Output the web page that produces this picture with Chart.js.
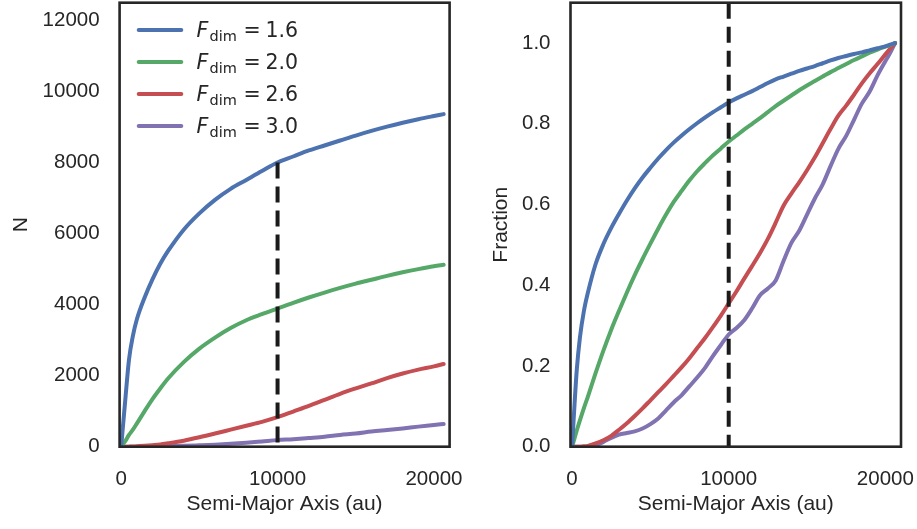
<!DOCTYPE html>
<html>
<head>
<meta charset="utf-8">
<script src="https://cdn.jsdelivr.net/npm/chart.js@4.4.1/dist/chart.umd.min.js"></script>
<style>
  html, body { margin: 0; padding: 0; background: #ffffff; }
  #wrap { position: relative; width: 917px; height: 529px; overflow: hidden; background: #ffffff; }
  canvas { position: absolute; top: 0; }
  #countChart { left: 0; }
  #fractionChart { left: 470px; }
</style>
</head>
<body>
<div id="wrap">
  <canvas id="countChart" width="470" height="529"></canvas>
  <canvas id="fractionChart" width="447" height="529"></canvas>
</div>
<script>
// ---- data ---------------------------------------------------------------
const fdimValues   = ['1.6', '2.0', '2.6', '3.0'];
const seriesColors = ['#4C72B0', '#55A868', '#C44E52', '#8172B2'];

const axisTicks     = [0, 10000, 20000];
const countTicks    = [0, 2000, 4000, 6000, 8000, 10000, 12000];
const fractionTicks = [0, 0.2, 0.4, 0.6, 0.8, 1.0];

const cutoffAU    = 10000;   // vertical dashed marker
const cutoffCount = 8000;

// cumulative number of objects vs semi-major axis (au)
const countAU  = [0, 250, 500, 750, 1000, 1500, 2000, 2500, 3000, 4000, 5000, 6000, 7000,
                  8000, 9000, 10000, 11000, 12000, 13000, 14000, 15000, 16000, 17000,
                  18000, 19000, 20000, 20620];
const countF16 = [0, 1250, 2450, 3120, 3580, 4200, 4710, 5150, 5510, 6110, 6570, 6950, 7260,
                  7510, 7760, 8000, 8170, 8340, 8480, 8620, 8760, 8890, 9010,
                  9120, 9220, 9310, 9364];
const countF20 = [0, 150, 330, 480, 650, 1000, 1340, 1640, 1920, 2380, 2760, 3070, 3340,
                  3560, 3730, 3890, 4050, 4200, 4340, 4470, 4590, 4700, 4810,
                  4910, 5000, 5080, 5120];
const countF26 = [0, 0, 2, 5, 12, 25, 42, 62, 95, 170, 265, 370, 480,
                  590, 700, 830, 990, 1150, 1320, 1490, 1640, 1780, 1930,
                  2060, 2170, 2260, 2330];
const countF30 = [0, 0, 0, 0, 1, 4, 9, 13, 16, 24, 40, 58, 82,
                  112, 148, 185, 212, 245, 280, 330, 370, 425, 470,
                  515, 565, 610, 640];

// cumulative fraction vs semi-major axis (au)
const fracAU  = [0, 150, 300, 500, 750, 1000, 1500, 2000, 2500, 3000, 3500, 4000, 4500,
                 5000, 5500, 6000, 6500, 7000, 7500, 8000, 8500, 9000, 9500, 10000,
                 10500, 11000, 11500, 12000, 12500, 13000, 13500, 14000, 14500, 15000,
                 15500, 16000, 16500, 17000, 17500, 18000, 18500, 19000, 19500, 20000,
                 20300, 20620];
const fracF16 = [0, 0.10, 0.19, 0.27, 0.335, 0.38, 0.452, 0.502, 0.542, 0.577, 0.610, 0.640, 0.667,
                 0.691, 0.714, 0.735, 0.754, 0.771, 0.787, 0.802, 0.816, 0.829, 0.841, 0.853,
                 0.863, 0.872, 0.881, 0.891, 0.901, 0.910, 0.917, 0.924, 0.931, 0.937,
                 0.943, 0.950, 0.957, 0.963, 0.968, 0.973, 0.977, 0.982, 0.987, 0.992,
                 0.996, 1.0];
const fracF20 = [0, 0.02, 0.04, 0.065, 0.095, 0.123, 0.182, 0.238, 0.29, 0.337, 0.382, 0.425, 0.465,
                 0.503, 0.540, 0.575, 0.607, 0.634, 0.660, 0.683, 0.703, 0.722, 0.739, 0.756,
                 0.771, 0.786, 0.800, 0.814, 0.829, 0.844, 0.857, 0.870, 0.883, 0.895,
                 0.906, 0.917, 0.928, 0.938, 0.948, 0.958, 0.967, 0.976, 0.984, 0.991,
                 0.995, 1.0];
const fracF26 = [0, 0, 0, 0, 0.001, 0.002, 0.008, 0.016, 0.027, 0.042, 0.058, 0.076, 0.095,
                 0.115, 0.135, 0.155, 0.176, 0.197, 0.22, 0.245, 0.27, 0.297, 0.325, 0.355,
                 0.385, 0.417, 0.448, 0.48, 0.515, 0.555, 0.597, 0.627, 0.655, 0.685,
                 0.717, 0.752, 0.787, 0.82, 0.845, 0.872, 0.9, 0.925, 0.948, 0.972,
                 0.986, 1.0];
const fracF30 = [0, 0, 0, 0, 0, 0, 0.003, 0.012, 0.022, 0.03, 0.034, 0.038, 0.045,
                 0.056, 0.07, 0.09, 0.11, 0.128, 0.15, 0.172, 0.196, 0.225, 0.252, 0.278,
                 0.294, 0.314, 0.343, 0.375, 0.392, 0.412, 0.46, 0.505, 0.535, 0.575,
                 0.615, 0.65, 0.695, 0.738, 0.77, 0.81, 0.85, 0.88, 0.92, 0.955,
                 0.975, 1.0];

// ---- helpers ------------------------------------------------------------
const TEXT = '#262626';
const SANS = '"Liberation Sans", Arial, Helvetica, sans-serif';
Chart.defaults.font.family = SANS;
Chart.defaults.color = TEXT;

const zip = (xs, ys) => xs.map((x, i) => ({ x: x, y: ys[i] }));

function curve(label, xs, ys, color) {
  return {
    label: label, data: zip(xs, ys),
    borderColor: color, backgroundColor: color,
    borderWidth: 4, pointRadius: 0, fill: false,
    cubicInterpolationMode: 'monotone',
    borderCapStyle: 'round', borderJoinStyle: 'round'
  };
}

function cutoffLine(yTop) {
  return {
    label: 'cutoff', data: [{ x: cutoffAU, y: yTop }, { x: cutoffAU, y: 0 }],
    borderColor: '#1a1a1a', borderWidth: 4, borderDash: [16, 8],
    borderCapStyle: 'butt', pointRadius: 0, fill: false, tension: 0, order: -1
  };
}

// box frame around the plotting area
const framePlugin = {
  id: 'frame',
  afterDraw(chart) {
    const { left, top, right, bottom } = chart.chartArea;
    const ctx = chart.ctx;
    ctx.save();
    ctx.strokeStyle = TEXT;
    ctx.lineWidth = 2.6;
    ctx.strokeRect(left, top, right - left, bottom - top);
    ctx.restore();
  }
};

// legend with subscripted F_dim labels
const fdimLegend = {
  id: 'fdimLegend',
  afterDraw(chart) {
    const ctx = chart.ctx;
    const sets = chart.data.datasets.filter(d => d.label !== 'cutoff');
    sets.forEach((ds, i) => {
      const y = 30 + i * 32;
      ctx.save();
      ctx.strokeStyle = ds.borderColor;
      ctx.lineWidth = 4;
      ctx.lineCap = 'round';
      ctx.beginPath();
      ctx.moveTo(138.7, y);
      ctx.lineTo(181.3, y);
      ctx.stroke();
      ctx.fillStyle = TEXT;
      ctx.textAlign = 'left';
      ctx.textBaseline = 'alphabetic';
      ctx.font = 'italic 20.5px "DejaVu Sans"';
      ctx.fillText('F', 196.5, y + 7.4);
      ctx.font = '14.5px "DejaVu Sans"';
      ctx.fillText('dim', 209.5, y + 10.5);
      ctx.font = '20.5px "DejaVu Sans"';
      ctx.fillText('=', 243.5, y + 7.4);
      ctx.fillText(ds.label, 265.5, y + 7.4);
      ctx.restore();
    });
  }
};

function axisOptions(cfg) {
  return {
    x: {
      type: 'linear', min: -100, max: 21000,
      grid: { display: false, drawTicks: false }, border: { display: false },
      afterBuildTicks: s => { s.ticks = axisTicks.map(v => ({ value: v })); },
      ticks: { font: { size: 20.5 }, color: TEXT, padding: 20, maxRotation: 0,
               callback: v => String(v) },
      title: { display: true, text: 'Semi-Major Axis (au)', color: TEXT,
               font: { size: 21 }, padding: { top: 0, bottom: 12 } },
      afterFit: s => { s.height = 82.3; s.paddingLeft = 0; s.paddingRight = 0; }
    },
    y: {
      type: 'linear', min: 0, max: cfg.yMax,
      grid: { display: false, drawTicks: false }, border: { display: false },
      afterBuildTicks: s => { s.ticks = cfg.ticks.map(v => ({ value: v })); },
      ticks: { font: { size: 20.5 }, color: TEXT, padding: 20, callback: cfg.fmt },
      title: { display: true, text: cfg.title, color: TEXT,
               font: { size: 21 }, padding: { top: cfg.titlePad, bottom: 0 } },
      afterFit: s => { s.width = cfg.width; s.paddingTop = 0; s.paddingBottom = 0; }
    }
  };
}

// ---- left panel: counts -------------------------------------------------
new Chart(document.getElementById('countChart'), {
  type: 'line',
  data: {
    datasets: [
      curve(fdimValues[0], countAU, countF16, seriesColors[0]),
      curve(fdimValues[1], countAU, countF20, seriesColors[1]),
      curve(fdimValues[2], countAU, countF26, seriesColors[2]),
      curve(fdimValues[3], countAU, countF30, seriesColors[3]),
      cutoffLine(cutoffCount)
    ]
  },
  options: {
    responsive: false, animation: false, devicePixelRatio: 1,
    layout: { padding: { left: 0, top: 2.7, right: 20.4, bottom: 0 } },
    plugins: { legend: { display: false }, tooltip: { enabled: false } },
    scales: axisOptions({ yMax: 12500, ticks: countTicks, fmt: v => String(v),
                          title: 'N', titlePad: 8.5, width: 119.6 })
  },
  plugins: [framePlugin, fdimLegend]
});

// ---- right panel: fractions ---------------------------------------------
new Chart(document.getElementById('fractionChart'), {
  type: 'line',
  data: {
    datasets: [
      curve(fdimValues[0], fracAU, fracF16, seriesColors[0]),
      curve(fdimValues[1], fracAU, fracF20, seriesColors[1]),
      curve(fdimValues[2], fracAU, fracF26, seriesColors[2]),
      curve(fdimValues[3], fracAU, fracF30, seriesColors[3]),
      cutoffLine(1.1)
    ]
  },
  options: {
    responsive: false, animation: false, devicePixelRatio: 1,
    layout: { padding: { left: 0, top: 2.7, right: 16, bottom: 0 } },
    plugins: { legend: { display: false }, tooltip: { enabled: false } },
    scales: axisOptions({ yMax: 1.1, ticks: fractionTicks, fmt: v => v.toFixed(1),
                          title: 'Fraction', titlePad: 19, width: 100.5 })
  },
  plugins: [framePlugin]
});
</script>
</body>
</html>
